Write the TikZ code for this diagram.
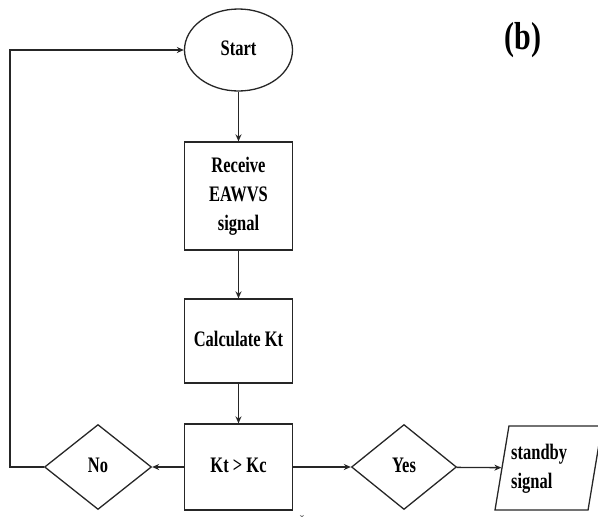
\documentclass[tikz,border=0pt]{standalone}
\usepackage{fontspec}
\setmainfont{Liberation Serif}
\usepackage{graphicx}
\usetikzlibrary{shapes.geometric,arrows.meta}
\newcommand{\tx}[2][c]{\scalebox{1}[1.34]{\fontsize{16.5}{21.6}\selectfont\bfseries\begin{tabular}{@{}#1@{}}#2\end{tabular}}}
\begin{document}
\begin{tikzpicture}[x=1pt,y=-1pt,
  ln/.style={draw=black!85,line width=1.3pt},
  box/.style={ln,rectangle,minimum width=108,inner sep=0pt},
  dia/.style={ln,diamond,inner sep=0pt},
  arr/.style={black!85,line width=1.3pt,-{Stealth[length=7pt,width=6pt]}}]
\useasboundingbox (0,0) rectangle (598,531);
\node[ln,ellipse,minimum width=108,minimum height=82,inner sep=0pt] (start) at (238.5,50) {\tx{Start}};
\node[box,minimum height=108] (recv) at (238.5,196) {\tx{Receive\\EAWVS\\signal}};
\node[box,minimum height=84] (calc) at (238.5,341) {\tx{Calculate Kt}};
\node[box,minimum height=86] (cmp) at (238.5,467) {\tx{Kt > Kc}};
\node[dia,minimum width=107,minimum height=85] (no) at (98,467) {\tx{No}};
\node[dia,minimum width=105,minimum height=85] (yes) at (404,467) {\tx{Yes}};
\node[ln,trapezium,trapezium left angle=80,trapezium right angle=100,trapezium stretches,minimum width=107,minimum height=84,inner sep=1pt] (out) at (548.5,468) {\rule{0pt}{10pt}\rule{10pt}{0pt}};
\node[anchor=west,inner sep=0pt] (outtxt) at (511,468) {\tx[l]{standby\\signal}};
\node (lbl) at (523,40) {\scalebox{1}[1.3]{\fontsize{30}{30}\selectfont\bfseries (b)}};
\node[inner sep=1pt,text=black!65] (mark) at (302,520) {\fontsize{13}{13}\selectfont ˇ};
\coordinate (c1) at (10,467);
\coordinate (c2) at (10,50);
\draw[arr] (start) -- (recv);
\draw[arr] (recv) -- (calc);
\draw[arr] (calc) -- (cmp);
\draw[arr] (cmp) -- (no);
\draw[arr] (cmp) -- (yes);
\draw[arr] (yes) -- (out);
\draw[arr] (no.west) -- (c1) -- (c2) -- (start.west);
\end{tikzpicture}
\end{document}
